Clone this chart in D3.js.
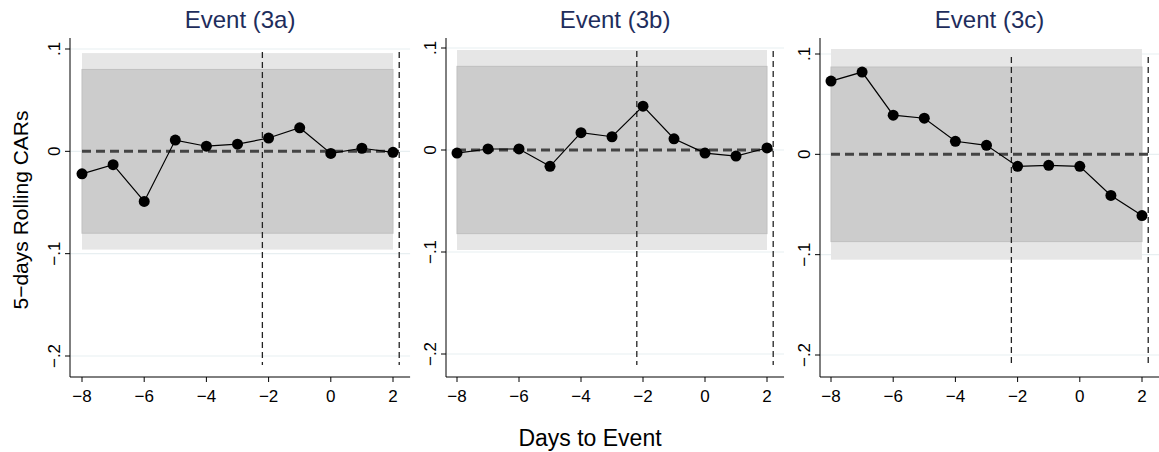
<!DOCTYPE html>
<html><head><meta charset="utf-8">
<script src="https://cdn.jsdelivr.net/npm/d3@7"></script>
<style>body{margin:0;background:#fff}text{font-family:"Liberation Sans",Arial,sans-serif}</style>
</head><body><svg></svg>
<script>
const days = [-8,-7,-6,-5,-4,-3,-2,-1,0,1,2];
const titles = ["Event (3a)","Event (3b)","Event (3c)"];
const carsA = [-0.022,-0.013,-0.049,0.011,0.005,0.007,0.013,0.023,-0.002,0.003,-0.001];
const carsB = [-0.003,0.001,0.001,-0.016,0.017,0.013,0.043,0.011,-0.003,-0.006,0.002];
const carsC = [0.073,0.082,0.039,0.036,0.013,0.009,-0.012,-0.011,-0.012,-0.041,-0.061];
const outerBand = [0.096,0.098,0.105];
const innerBand = [0.080,0.082,0.087];
const yTicks = [0.1,0,-0.1,-0.2];
const xTicks = [-8,-6,-4,-2,0,2];
const eventLines = [-2.2,2.2];

const svg = d3.select("svg").attr("width",1159).attr("height",452);
const series = [carsA,carsB,carsC];
// panel geometry: axis origin and tick pixel anchors
const panels = [
  {ax:70, x0:82, x1:393, yTop:49, yBot:356},
  {ax:446, x0:457, x1:767, yTop:48, yBot:354},
  {ax:820, x0:831, x1:1142, yTop:54, yBot:355}
];
const fmt = v => v===0 ? "0" : (v<0 ? "\u2212" : "") + String(Math.abs(v)).replace("0.", ".");

panels.forEach((p,i) => {
  const x = d3.scaleLinear().domain([-8,2]).range([p.x0,p.x1]);
  const y = d3.scaleLinear().domain([0.1,-0.2]).range([p.yTop,p.yBot]);
  const g = svg.append("g");
  const right = x(2.55);
  // grid
  g.selectAll(".grid").data(yTicks).enter().append("line")
    .attr("x1",p.ax).attr("x2",right).attr("y1",d=>y(d)).attr("y2",d=>y(d))
    .attr("stroke","#e8eff1").attr("stroke-width",1.2);
  // bands
  g.append("rect").attr("x",x(-8)).attr("width",x(2)-x(-8))
    .attr("y",y(outerBand[i])).attr("height",y(-outerBand[i])-y(outerBand[i]))
    .attr("fill","#e6e6e6");
  g.append("rect").attr("x",x(-8)).attr("width",x(2)-x(-8))
    .attr("y",y(innerBand[i])).attr("height",y(-innerBand[i])-y(innerBand[i]))
    .attr("fill","#cccccc").attr("stroke","#c0c0c0");
  // zero line
  g.append("line").attr("x1",x(-8)).attr("x2",x(2.2)).attr("y1",y(0)).attr("y2",y(0))
    .attr("stroke","#444").attr("stroke-width",3).attr("stroke-dasharray","9,5");
  // event lines
  g.selectAll(".ev").data(eventLines).enter().append("line")
    .attr("x1",d=>x(d)).attr("x2",d=>x(d)).attr("y1",y(0.097)).attr("y2",365)
    .attr("stroke","#222").attr("stroke-width",1.3).attr("stroke-dasharray","6,4");
  // series
  const pts = days.map((d,k)=>[d,series[i][k]]);
  g.append("path").datum(pts).attr("fill","none").attr("stroke","#000").attr("stroke-width",1.2)
    .attr("d",d3.line().x(d=>x(d[0])).y(d=>y(d[1])));
  g.selectAll("circle").data(pts).enter().append("circle")
    .attr("cx",d=>x(d[0])).attr("cy",d=>y(d[1])).attr("r",5.5).attr("fill","#000");
  // axes
  g.append("line").attr("x1",p.ax).attr("x2",p.ax).attr("y1",38).attr("y2",377).attr("stroke","#000");
  g.append("line").attr("x1",p.ax).attr("x2",right).attr("y1",377).attr("y2",377).attr("stroke","#000");
  g.selectAll(".yt").data(yTicks).enter().append("line")
    .attr("x1",p.ax-5).attr("x2",p.ax).attr("y1",d=>y(d)).attr("y2",d=>y(d)).attr("stroke","#000");
  g.selectAll(".yl").data(yTicks).enter().append("text")
    .attr("transform",d=>`translate(${p.ax-10},${y(d)}) rotate(-90)`)
    .attr("text-anchor","middle").attr("font-size",17).text(fmt);
  g.selectAll(".xt").data(xTicks).enter().append("line")
    .attr("x1",d=>x(d)).attr("x2",d=>x(d)).attr("y1",377).attr("y2",382).attr("stroke","#000");
  g.selectAll(".xl").data(xTicks).enter().append("text")
    .attr("x",d=>x(d)).attr("y",402).attr("text-anchor","middle").attr("font-size",17)
    .text(d=>d<0?"\u2212"+(-d):d);
  g.append("text").attr("x",(p.ax+right)/2).attr("y",28).attr("text-anchor","middle")
    .attr("font-size",24).attr("fill","#1e2d5c").text(titles[i]);
});
svg.append("text").attr("transform","translate(28,210) rotate(-90)").attr("text-anchor","middle")
  .attr("font-size",21).text("5\u2212days Rolling CARs");
svg.append("text").attr("x",590).attr("y",446).attr("text-anchor","middle")
  .attr("font-size",23).text("Days to Event");
</script></body></html>
